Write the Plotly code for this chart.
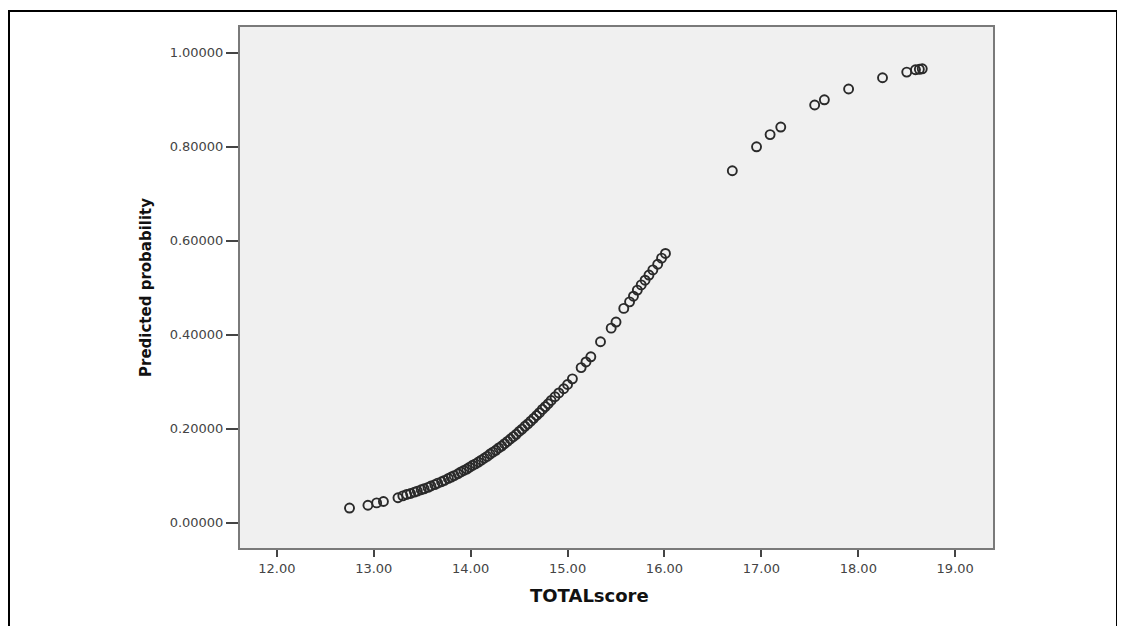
import plotly.graph_objects as go

# Values
total_score = [
    12.75, 12.94, 13.03, 13.10, 13.25, 13.30, 13.34, 13.38, 13.42, 13.45,
    13.49, 13.52, 13.56, 13.59, 13.63, 13.66, 13.70, 13.73, 13.77, 13.80,
    13.83, 13.87, 13.90, 13.93, 13.96, 13.99, 14.02, 14.05, 14.08, 14.11,
    14.14, 14.17, 14.20, 14.23, 14.26, 14.29, 14.32, 14.35, 14.38, 14.41,
    14.44, 14.47, 14.50, 14.53, 14.56, 14.59, 14.62, 14.65, 14.68, 14.71,
    14.74, 14.77, 14.80, 14.83, 14.87, 14.91, 14.96, 15.00, 15.05, 15.14,
    15.19, 15.24, 15.34, 15.45, 15.50, 15.58, 15.64, 15.68, 15.72, 15.76,
    15.80, 15.84, 15.88, 15.93, 15.97, 16.01,
    16.70, 16.95, 17.09, 17.20, 17.55, 17.65, 17.90, 18.25, 18.50, 18.59,
    18.63, 18.66,
]
predicted_probability = [
    0.031, 0.037, 0.042, 0.045, 0.053, 0.057, 0.060, 0.062, 0.065, 0.067,
    0.070, 0.072, 0.075, 0.078, 0.081, 0.084, 0.087, 0.090, 0.094, 0.097,
    0.100, 0.104, 0.108, 0.111, 0.114, 0.118, 0.122, 0.125, 0.129, 0.133,
    0.137, 0.141, 0.146, 0.150, 0.154, 0.159, 0.163, 0.168, 0.173, 0.178,
    0.183, 0.188, 0.194, 0.199, 0.205, 0.210, 0.216, 0.222, 0.228, 0.234,
    0.241, 0.247, 0.253, 0.260, 0.268, 0.276, 0.285, 0.294, 0.306, 0.330,
    0.342, 0.353, 0.385, 0.414, 0.427, 0.456, 0.470, 0.482, 0.495, 0.506,
    0.516, 0.527, 0.538, 0.550, 0.563, 0.573,
    0.749, 0.800, 0.826, 0.842, 0.889, 0.900, 0.923, 0.947, 0.959, 0.964,
    0.965, 0.966,
]
x_ticks = [12, 13, 14, 15, 16, 17, 18, 19]
y_ticks = [0.0, 0.2, 0.4, 0.6, 0.8, 1.0]
x_title = "TOTALscore"
y_title = "Predicted probability"

# the page adds an 8 px body margin; figure coordinates = page coordinates - 8
OFF = 8
W, H = 1125, 626
L = 240 - OFF
T = 27 - OFF
R = W - (993 - OFF)
B = H - (548 - OFF)
pw, ph = W - L - R, H - T - B

def px_x(p):
    return (p - OFF - L) / pw

def px_y(p):
    return (H - B - (p - OFF)) / ph

fig = go.Figure()
fig.add_trace(go.Scatter(
    x=total_score, y=predicted_probability, mode="markers",
    marker=dict(symbol="circle-open", size=9, color="#2a2a2a",
                line=dict(width=1.9, color="#2a2a2a")),
    showlegend=False, hoverinfo="x+y",
))

axis_font = dict(family="DejaVu Sans, Verdana, sans-serif", size=13, color="#444444")

fig.update_layout(
    width=W, height=H,
    margin=dict(l=L, r=R, t=T, b=B),
    paper_bgcolor="white",
    plot_bgcolor="#f0f0f0",
    xaxis=dict(
        range=[11.62, 19.39], tickvals=x_ticks, tickformat=".2f",
        showgrid=False, zeroline=False,
        showline=True, linecolor="#7a7a7a", linewidth=2, mirror=True,
        ticks="outside", ticklen=7, tickwidth=2, tickcolor="#444444",
        tickfont=axis_font,
    ),
    yaxis=dict(
        range=[-0.054, 1.055], tickvals=y_ticks, tickformat=".5f",
        showgrid=False, zeroline=False,
        showline=True, linecolor="#7a7a7a", linewidth=2, mirror=True,
        ticks="outside", ticklen=12, tickwidth=2, tickcolor="#444444",
        tickfont=axis_font,
    ),
)

fig.add_annotation(
    text="<b>" + x_title + "</b>", xref="paper", yref="paper",
    x=px_x(589), y=px_y(595), xanchor="center", yanchor="middle", showarrow=False,
    font=dict(family="DejaVu Sans, Verdana, sans-serif", size=18, color="#111111"),
)
fig.add_annotation(
    text="<b>" + y_title + "</b>", xref="paper", yref="paper",
    x=px_x(146), y=px_y(288), xanchor="center", yanchor="middle",
    showarrow=False, textangle=-90,
    font=dict(family="DejaVu Sans, Verdana, sans-serif", size=15, color="#111111"),
)

# outer frame of the picture
fig.add_shape(
    type="rect", xref="paper", yref="paper",
    x0=px_x(9), x1=px_x(1117), y0=px_y(660), y1=px_y(11),
    line=dict(color="black", width=2), fillcolor="rgba(0,0,0,0)", layer="below",
)

fig.write_html("out.html")
